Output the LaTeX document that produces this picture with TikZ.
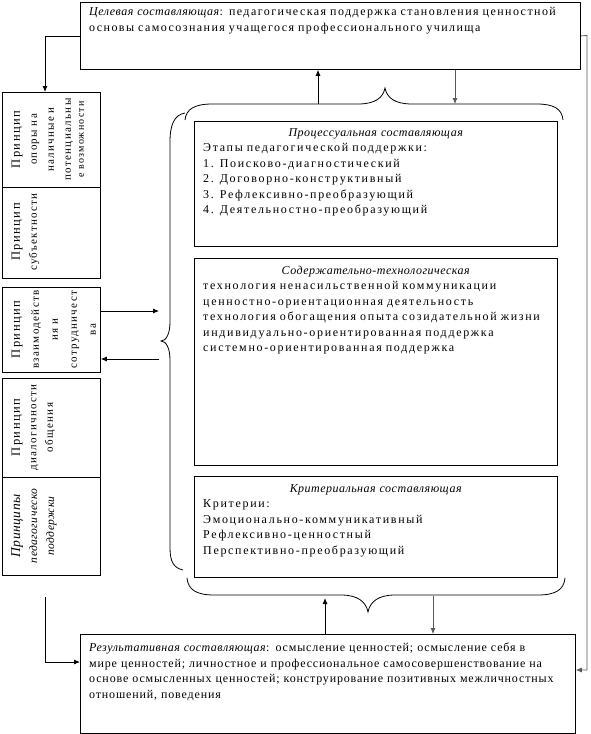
\documentclass[tikz,border=0pt]{standalone}
\usepackage{fontspec}
\setmainfont{Liberation Serif}[LetterSpace=12,ItalicFeatures={LetterSpace=4}]
\newfontfamily\wideserif{Liberation Serif}[LetterSpace=14,ItalicFeatures={LetterSpace=4}]
\newfontfamily\tightserif{Liberation Serif}[LetterSpace=7,ItalicFeatures={LetterSpace=4}]
\usetikzlibrary{arrows.meta}
\begin{document}
\begin{tikzpicture}[x=1pt,y=-1pt,
  box/.style={draw, line width=0.8pt, inner sep=0pt, anchor=north west},
  txt/.style={inner sep=0pt, anchor=north west, align=left, font=\wideserif\fontsize{12}{15.5}\selectfont},
  arr/.style={-{Latex[length=6pt,width=5pt]}, line width=0.8pt},
  garr/.style={-{Latex[length=6pt,width=5pt]}, line width=0.8pt, draw=black!65},
  brace/.style={line width=0.8pt},
  rtxt/.style={rotate=90, anchor=north, inner sep=0pt, align=center, font=\fontsize{11}{17}\selectfont}
]
\useasboundingbox (0,0) rectangle (590,734);

% top box
\node[box, minimum width=500pt, minimum height=67pt] (top) at (80,2) {};
\node[txt, text width=483pt, font=\fontsize{12}{16}\selectfont] (toptext) at (89,7)
 {\makebox[483pt][s]{\textit{Целевая составляющая}: педагогическая поддержка становления ценностной}\\
  основы самосознания учащегося профессионального училища};

% left column
\node[box, minimum width=98pt, minimum height=95pt] (b1) at (2,92) {};
\node[box, minimum width=98pt, minimum height=91pt] (b2) at (2,187) {};
\node[box, minimum width=98pt, minimum height=85pt] (b3) at (2,287) {};
\node[box, minimum width=98pt, minimum height=99pt] (b4) at (2,378) {};
\node[box, minimum width=98pt, minimum height=98pt] (b5) at (2,477) {};

\node[rtxt, text width=92pt] (t1) at (11.5,139.5)
 {{\fontsize{12.5}{17}\selectfont Принцип}\\опоры на\\наличные и\\потенциальны\\[-4pt]{\fontsize{10}{12}\selectfont е возможности}};
\node[rtxt, text width=88pt] (t2) at (11.5,232)
 {{\fontsize{12.5}{17}\selectfont Принцип}\\субъектности};
\node[rtxt, text width=84pt, font=\fontsize{11}{19}\selectfont] (t3) at (11.5,329.5)
 {{\fontsize{12.5}{19}\selectfont Принцип}\\взаимодейств\\ия и\\сотрудничест\\ва};
\node[rtxt, text width=97pt, font=\fontsize{11}{16.5}\selectfont] (t4) at (11.5,427.5)
 {{\fontsize{12.5}{16.5}\selectfont Принцип}\\диалогичности\\общения};
\node[rtxt, text width=97pt, font=\fontsize{11.5}{17}\selectfont\itshape] (t5) at (11,526)
 {{\fontsize{13.5}{17}\selectfont Принципы}\\педагогическо\\поддержки};

% right boxes
\node[box, minimum width=363pt, minimum height=125pt] (proc) at (194,121) {};
\node[txt, text width=345pt] (proctext) at (203,128)
 {\makebox[345pt]{\itshape Процессуальная составляющая}\\
  Этапы педагогической поддержки:\\
  1. Поисково-диагностический\\
  2. Договорно-конструктивный\\
  3. Рефлексивно-преобразующий\\
  4. Деятельностно-преобразующий};

\node[box, minimum width=363pt, minimum height=207pt] (cont) at (194,258) {};
\node[txt, text width=345pt] (conttext) at (203,265.5)
 {\makebox[345pt]{\itshape Содержательно-технологическая}\\
  технология ненасильственной коммуникации\\
  ценностно-ориентационная деятельность\\
  технология обогащения опыта созидательной жизни\\
  индивидуально-ориентированная поддержка\\
  системно-ориентированная поддержка};

\node[box, minimum width=363pt, minimum height=101pt] (crit) at (194,476) {};
\node[txt, text width=345pt] (crittext) at (203,484)
 {\makebox[345pt]{\itshape Критериальная составляющая}\\
  Критерии:\\
  Эмоционально-коммуникативный\\
  Рефлексивно-ценностный\\
  Перспективно-преобразующий};

% result box
\node[box, minimum width=495pt, minimum height=99pt] (res) at (80,634) {};
\node[txt, text width=474pt, font=\tightserif\fontsize{12}{15.5}\selectfont] (restext) at (89,643)
 {\makebox[474pt][s]{\textit{Результативная составляющая}: осмысление ценностей; осмысление себя в}\\
  \makebox[474pt][s]{мире ценностей; личностное и профессиональное самосовершенствование на}\\
  \makebox[474pt][s]{основе осмысленных ценностей; конструирование позитивных межличностных}\\
  отношений, поведения};

% braces
\draw[brace] (185,120) .. controls (186,109) and (195,104) .. (212,104) -- (358,104)
  .. controls (375,104) and (383,98) .. (385,88)
  .. controls (387,98) and (395,104) .. (412,104) -- (537,104)
  .. controls (554,104) and (562,109) .. (563,120);
\draw[brace] (185,113) .. controls (174,115) and (170,125) .. (170,142) -- (170,322)
  .. controls (170,334) and (166,341) .. (161,341)
  .. controls (166,341) and (170,348) .. (170,360) -- (170,548)
  .. controls (170,562) and (174,568) .. (183,570);
\draw[brace] (187,578) .. controls (188,590) and (197,595) .. (214,595) -- (341,595)
  .. controls (358,595) and (366,602) .. (368,612)
  .. controls (370,602) and (378,595) .. (395,595) -- (538,595)
  .. controls (555,595) and (564,590) .. (565,578);

% connectors
\coordinate (bu1) at (318,104);
\coordinate (bd1) at (455,104);
\coordinate (bu2) at (325,598);
\coordinate (bd2) at (433,596);
\coordinate (lbr1) at (159,311);
\coordinate (lbr2) at (159,359);
\coordinate (lstart) at (45,597);

\draw[arr] (bu1) -- (bu1 |- top.south);
\draw[garr] (bd1 |- top.south) -- (bd1);
\draw[arr] (bu2 |- res.north) -- (bu2);
\draw[garr] (bd2) -- (bd2 |- res.north);

\draw[arr] (top.west) -| (45,92);
\draw[garr] (top.east) -- (587,35.5) -- (587,670) -- (res.east |- 0,670);
\draw[arr] (lstart) |- (res.west |- 0,662);

\draw[arr] (b3.east |- lbr1) -- (lbr1);
\draw[arr] (lbr2) -- (b3.east |- lbr2);
\end{tikzpicture}
\end{document}
